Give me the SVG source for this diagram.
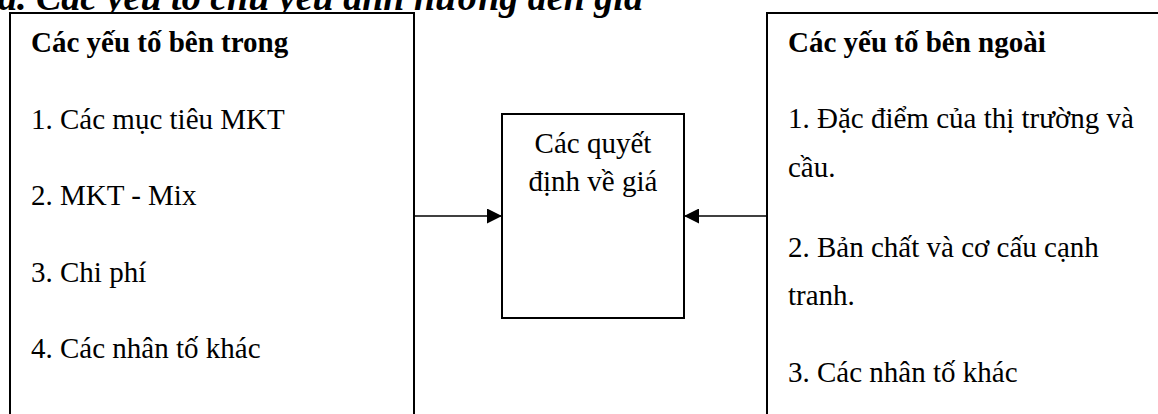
<svg xmlns="http://www.w3.org/2000/svg" width="1158" height="414" viewBox="0 0 1158 414">
  <style>
    .box { fill: #ffffff; stroke: #000000; stroke-width: 2; }
    .t { font-family: "Liberation Serif", "Times New Roman", serif; font-size: 29px; fill: #000000; }
    .b { font-weight: bold; }
    .title { font-family: "Liberation Serif", "Times New Roman", serif; font-size: 38px; font-weight: bold; font-style: italic; fill: #000000; }
    .conn { stroke: #000000; stroke-width: 1.6; fill: none; }
  </style>
  <defs>
    <marker id="head" markerWidth="15" markerHeight="15" refX="15" refY="7.5" orient="auto" markerUnits="userSpaceOnUse">
      <path d="M0,0 L15,7.5 L0,15 Z" fill="#000000"/>
    </marker>
  </defs>

  <rect width="1158" height="414" fill="#ffffff"/>

  <!-- heading -->
  <text class="title" x="-2" y="10">a. Các yếu tố chủ yếu ảnh hưởng đến giá</text>

  <!-- internal factors -->
  <g id="internal">
    <rect class="box" x="10" y="13" width="404" height="420"/>
    <text class="t b" x="31" y="52">Các yếu tố bên trong</text>
    <text class="t" x="31" y="128.5">1. Các mục tiêu MKT</text>
    <text class="t" x="31" y="205">2. MKT - Mix</text>
    <text class="t" x="31" y="281.5">3. Chi phí</text>
    <text class="t" x="31" y="358">4. Các nhân tố khác</text>
  </g>

  <!-- pricing decisions -->
  <g id="decision">
    <rect class="box" x="502" y="114" width="182" height="204"/>
    <text class="t" x="593" y="153" text-anchor="middle">Các quyết</text>
    <text class="t" x="593" y="190.5" text-anchor="middle">định về giá</text>
  </g>

  <!-- external factors -->
  <g id="external">
    <rect class="box" x="767" y="13" width="420" height="420"/>
    <text class="t b" x="788" y="52">Các yếu tố bên ngoài</text>
    <text class="t" x="788" y="128">1. Đặc điểm của thị trường và</text>
    <text class="t" x="788" y="177">cầu.</text>
    <text class="t" x="788" y="256.5">2. Bản chất và cơ cấu cạnh</text>
    <text class="t" x="788" y="305">tranh.</text>
    <text class="t" x="788" y="382">3. Các nhân tố khác</text>
  </g>

  <!-- connectors -->
  <g id="connectors">
    <line class="conn" x1="414" y1="216" x2="502" y2="216" marker-end="url(#head)"/>
    <line class="conn" x1="767" y1="216" x2="684" y2="216" marker-end="url(#head)"/>
  </g>
</svg>
